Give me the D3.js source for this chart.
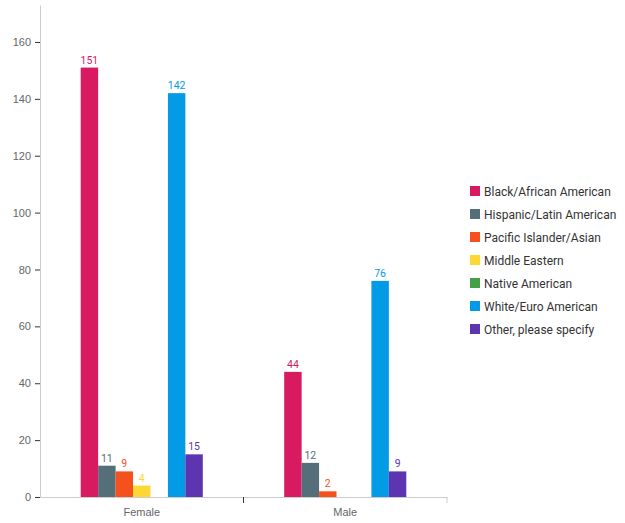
<!DOCTYPE html>
<html>
<head>
<meta charset="utf-8">
<script src="https://cdn.jsdelivr.net/npm/d3@7"></script>
<style>
  body { margin: 0; background: #fff; }
  svg { font-family: Roboto, "Noto Sans", sans-serif; }
</style>
</head>
<body>
<div id="chart"></div>
<script>
var genders = ['Female', 'Male'];
var races = ['Black/African American', 'Hispanic/Latin American', 'Pacific Islander/Asian',
  'Middle Eastern', 'Native American', 'White/Euro American', 'Other, please specify'];
var colors = ['#d81b60', '#546e7a', '#f4511e', '#fdd835', '#43a047', '#039be5', '#5e35b1'];
var femaleValues = [151, 11, 9, 4, 0, 142, 15];
var maleValues = [44, 12, 2, 0, 0, 76, 9];
var yTicks = [0, 20, 40, 60, 80, 100, 120, 140, 160];

(function(){
  var width = 625, height = 523;
  var plotLeft = 40, plotRight = 447, plotTop = 5, plotBottom = 497;

  var data = genders.map(function(g, i) {
    var vals = i === 0 ? femaleValues : maleValues;
    return { gender: g, values: races.map(function(r, j) { return { race: r, value: vals[j], color: colors[j] }; }) };
  });

  var svg = d3.select('#chart').append('svg')
    .attr('width', width)
    .attr('height', height);

  var x0 = d3.scaleBand().domain(genders).range([plotLeft, plotRight]).padding(0);
  var bw = x0.bandwidth();
  var x1 = d3.scaleBand().domain(races).range([bw * 0.2, bw * 0.8]).padding(0);
  var y = d3.scaleLinear().domain([0, 173]).range([plotBottom, plotTop]);

  // y axis
  var yAxis = svg.append('g')
    .attr('transform', 'translate(' + plotLeft + ',0)')
    .call(d3.axisLeft(y).tickValues(yTicks).tickSize(5).tickSizeOuter(0).tickPadding(4));
  yAxis.select('.domain').attr('stroke', '#ccc');
  yAxis.selectAll('.tick line').attr('stroke', '#333');
  yAxis.selectAll('.tick text').attr('fill', '#666').attr('font-size', 11);

  // x axis
  var xAxis = svg.append('g')
    .attr('transform', 'translate(0,' + plotBottom + ')')
    .call(d3.axisBottom(x0).tickSize(0).tickSizeOuter(0).tickPadding(11));
  xAxis.select('.domain').attr('stroke', '#ccc');
  xAxis.selectAll('.tick text').attr('fill', '#666').attr('font-size', 11);
  xAxis.append('line')
    .attr('x1', x0('Male')).attr('x2', x0('Male'))
    .attr('y1', 0).attr('y2', 6)
    .attr('stroke', '#333');
  xAxis.append('line')
    .attr('x1', plotRight).attr('x2', plotRight)
    .attr('y1', 0).attr('y2', 6)
    .attr('stroke', '#ccc');

  var groups = svg.selectAll('.group')
    .data(data)
    .enter().append('g')
    .attr('class', 'group')
    .attr('transform', function(d) { return 'translate(' + x0(d.gender) + ',0)'; });

  var bars = groups.selectAll('.bar')
    .data(function(d) { return d.values.filter(function(v) { return v.value > 0; }); })
    .enter();

  bars.append('rect')
    .attr('class', 'bar')
    .attr('x', function(d) { return x1(d.race); })
    .attr('width', x1.bandwidth())
    .attr('y', function(d) { return y(d.value); })
    .attr('height', function(d) { return plotBottom - y(d.value); })
    .attr('fill', function(d) { return d.color; });

  bars.append('text')
    .attr('x', function(d) { return x1(d.race) + x1.bandwidth() / 2; })
    .attr('y', function(d) { return y(d.value) - 4; })
    .attr('text-anchor', 'middle')
    .attr('font-size', 10.5)
    .attr('fill', function(d) { return d.color; })
    .text(function(d) { return d.value; });

  // legend
  var legend = svg.selectAll('.legend')
    .data(races)
    .enter().append('g')
    .attr('class', 'legend')
    .attr('transform', function(d, i) { return 'translate(470,' + (186 + i * 23) + ')'; });

  legend.append('rect')
    .attr('width', 10)
    .attr('height', 10)
    .attr('fill', function(d, i) { return colors[i]; });

  legend.append('text')
    .attr('x', 14)
    .attr('y', 9.5)
    .attr('font-size', 12)
    .attr('fill', '#333')
    .text(function(d) { return d; });
})();
</script>
</body>
</html>
